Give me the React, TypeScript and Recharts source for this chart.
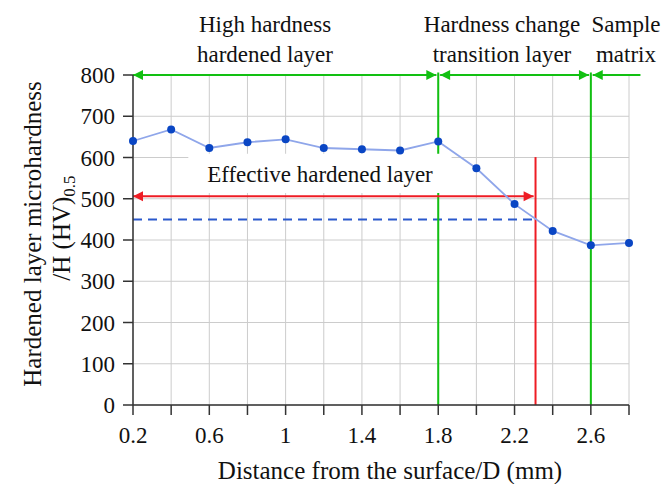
import { LineChart, Line, XAxis, YAxis, CartesianGrid, ReferenceLine, ReferenceArea, Customized } from 'recharts';

// distance from the surface (mm) and measured microhardness (HV0.5)
const distance = [0.2, 0.4, 0.6, 0.8, 1.0, 1.2, 1.4, 1.6, 1.8, 2.0, 2.2, 2.4, 2.6, 2.8];
const hardness = [640, 668, 623, 637, 644, 623, 620, 617, 639, 574, 487, 422, 387, 393];

const xTicks = [0.2, 0.4, 0.6, 0.8, 1, 1.2, 1.4, 1.6, 1.8, 2, 2.2, 2.4, 2.6, 2.8];
const xTickLabels = [0.2, 0.6, 1, 1.4, 1.8, 2.2, 2.6];
const yTicks = [0, 100, 200, 300, 400, 500, 600, 700, 800];

// layer boundaries (mm)
const surface = 0.2;
const highHardnessEnd = 1.8;
const transitionEnd = 2.6;
const matrixArrowEnd = 2.86;
const effectiveDepth = 2.31;
const limitHardness = 450;
const effectiveArrowY = 506;
const effectiveLineTop = 601;
const boxX = [0.49, 1.87];
const boxY = [514, 609];

const data = distance.map((d, i) => ({ d, hv: hardness[i] }));

const FONT = 'Liberation Serif';
const GREEN = '#12c012';
const RED = '#ee1c24';

const arrow = (color: string, startHead: boolean, endHead: boolean) => (p: any) => {
  const { x1, y1, x2, y2 } = p;
  const h = 10;
  const w = 5;
  return (
    <g>
      <line x1={x1} y1={y1} x2={x2} y2={y2} stroke={color} strokeWidth={2} />
      {startHead && (
        <polygon points={`${x1},${y1} ${x1 + h},${y1 - w} ${x1 + h},${y1 + w}`} fill={color} />
      )}
      {endHead && (
        <polygon points={`${x2},${y2} ${x2 - h},${y2 - w} ${x2 - h},${y2 + w}`} fill={color} />
      )}
    </g>
  );
};

const TopTitles = () => (
  <g style={{ fontFamily: FONT }} fill="#111" textAnchor="middle">
    <g fontSize={23}>
      <text x={265} y={32}>High hardness</text>
      <text x={265} y={62}>hardened layer</text>
      <text x={502} y={32}>Hardness change</text>
      <text x={502} y={62}>transition layer</text>
      <text x={626} y={32}>Sample</text>
      <text x={626} y={62}>matrix</text>
    </g>
    <text x={390} y={479} fontSize={25}>Distance from the surface/D (mm)</text>
  </g>
);

const YTitle = () => (
  <g style={{ fontFamily: FONT }} fontSize={25} fill="#111" textAnchor="middle">
    <text transform="translate(41,234) rotate(-90)">Hardened layer microhardness</text>
    <text transform="translate(70,228) rotate(-90)">
      /H (HV)
      <tspan fontSize={17} dy={5}>0.5</tspan>
    </text>
  </g>
);

export default function App() {
  return (
    <div style={{ position: 'absolute', left: 0, top: 0, fontFamily: FONT }}>
      <LineChart
        width={662}
        height={484}
        data={data}
        margin={{ top: 75, right: 33, bottom: 0, left: 0 }}
        style={{ fontFamily: FONT }}
      >
        <CartesianGrid stroke="#cccccc" strokeWidth={1} />
        <XAxis
          dataKey="d"
          type="number"
          domain={[0.2, 2.8]}
          ticks={xTicks}
          interval={0}
          height={79}
          tickSize={10}
          tickMargin={12}
          tickFormatter={(v: number) => (xTickLabels.includes(v) ? String(v) : '')}
          tick={{ fontSize: 23, fill: '#111', style: { fontFamily: FONT } }}
          axisLine={{ stroke: '#333', strokeWidth: 1.5 }}
          tickLine={{ stroke: '#333', strokeWidth: 1.5 }}
        />
        <YAxis
          type="number"
          domain={[0, 800]}
          ticks={yTicks}
          interval={0}
          width={133}
          tickSize={10}
          tickMargin={8}
          tick={{ fontSize: 23, fill: '#111', style: { fontFamily: FONT } }}
          axisLine={{ stroke: '#333', strokeWidth: 1.5 }}
          tickLine={{ stroke: '#333', strokeWidth: 1.5 }}
        />
        <ReferenceLine
          segment={[{ x: surface, y: limitHardness }, { x: effectiveDepth, y: limitHardness }]}
          stroke="#2a58cc"
          strokeWidth={2}
          strokeDasharray="9 6"
        />
        <ReferenceLine
          segment={[{ x: highHardnessEnd, y: 0 }, { x: highHardnessEnd, y: 806 }]}
          stroke={GREEN}
          strokeWidth={2}
          ifOverflow="visible"
        />
        <ReferenceLine
          segment={[{ x: transitionEnd, y: 0 }, { x: transitionEnd, y: 806 }]}
          stroke={GREEN}
          strokeWidth={2}
          ifOverflow="visible"
        />
        <ReferenceLine
          segment={[{ x: effectiveDepth, y: 0 }, { x: effectiveDepth, y: effectiveLineTop }]}
          stroke={RED}
          strokeWidth={2}
        />
        <ReferenceLine
          segment={[{ x: surface, y: effectiveArrowY }, { x: effectiveDepth - 0.01, y: effectiveArrowY }]}
          shape={arrow(RED, true, true)}
        />
        <ReferenceLine
          segment={[{ x: surface, y: 800 }, { x: highHardnessEnd - 0.01, y: 800 }]}
          shape={arrow(GREEN, true, true)}
          ifOverflow="visible"
        />
        <ReferenceLine
          segment={[{ x: highHardnessEnd + 0.01, y: 800 }, { x: transitionEnd - 0.01, y: 800 }]}
          shape={arrow(GREEN, true, true)}
          ifOverflow="visible"
        />
        <ReferenceLine
          segment={[{ x: transitionEnd + 0.01, y: 800 }, { x: matrixArrowEnd, y: 800 }]}
          shape={arrow(GREEN, true, false)}
          ifOverflow="visible"
        />
        <ReferenceArea
          x1={boxX[0]}
          x2={boxX[1]}
          y1={boxY[0]}
          y2={boxY[1]}
          fill="#ffffff"
          fillOpacity={1}
          stroke="none"
          zIndex={450}
          label={{ value: 'Effective hardened layer', fontSize: 23, fill: '#111', style: { fontFamily: FONT } }}
        />
        <Line
          dataKey="hv"
          stroke="#8fa6ea"
          strokeWidth={1.8}
          dot={{ r: 4, fill: '#0a46c4', stroke: 'none' }}
          isAnimationActive={false}
        />
        <Customized component={<TopTitles />} />
        <Customized component={<YTitle />} />
      </LineChart>
    </div>
  );
}
